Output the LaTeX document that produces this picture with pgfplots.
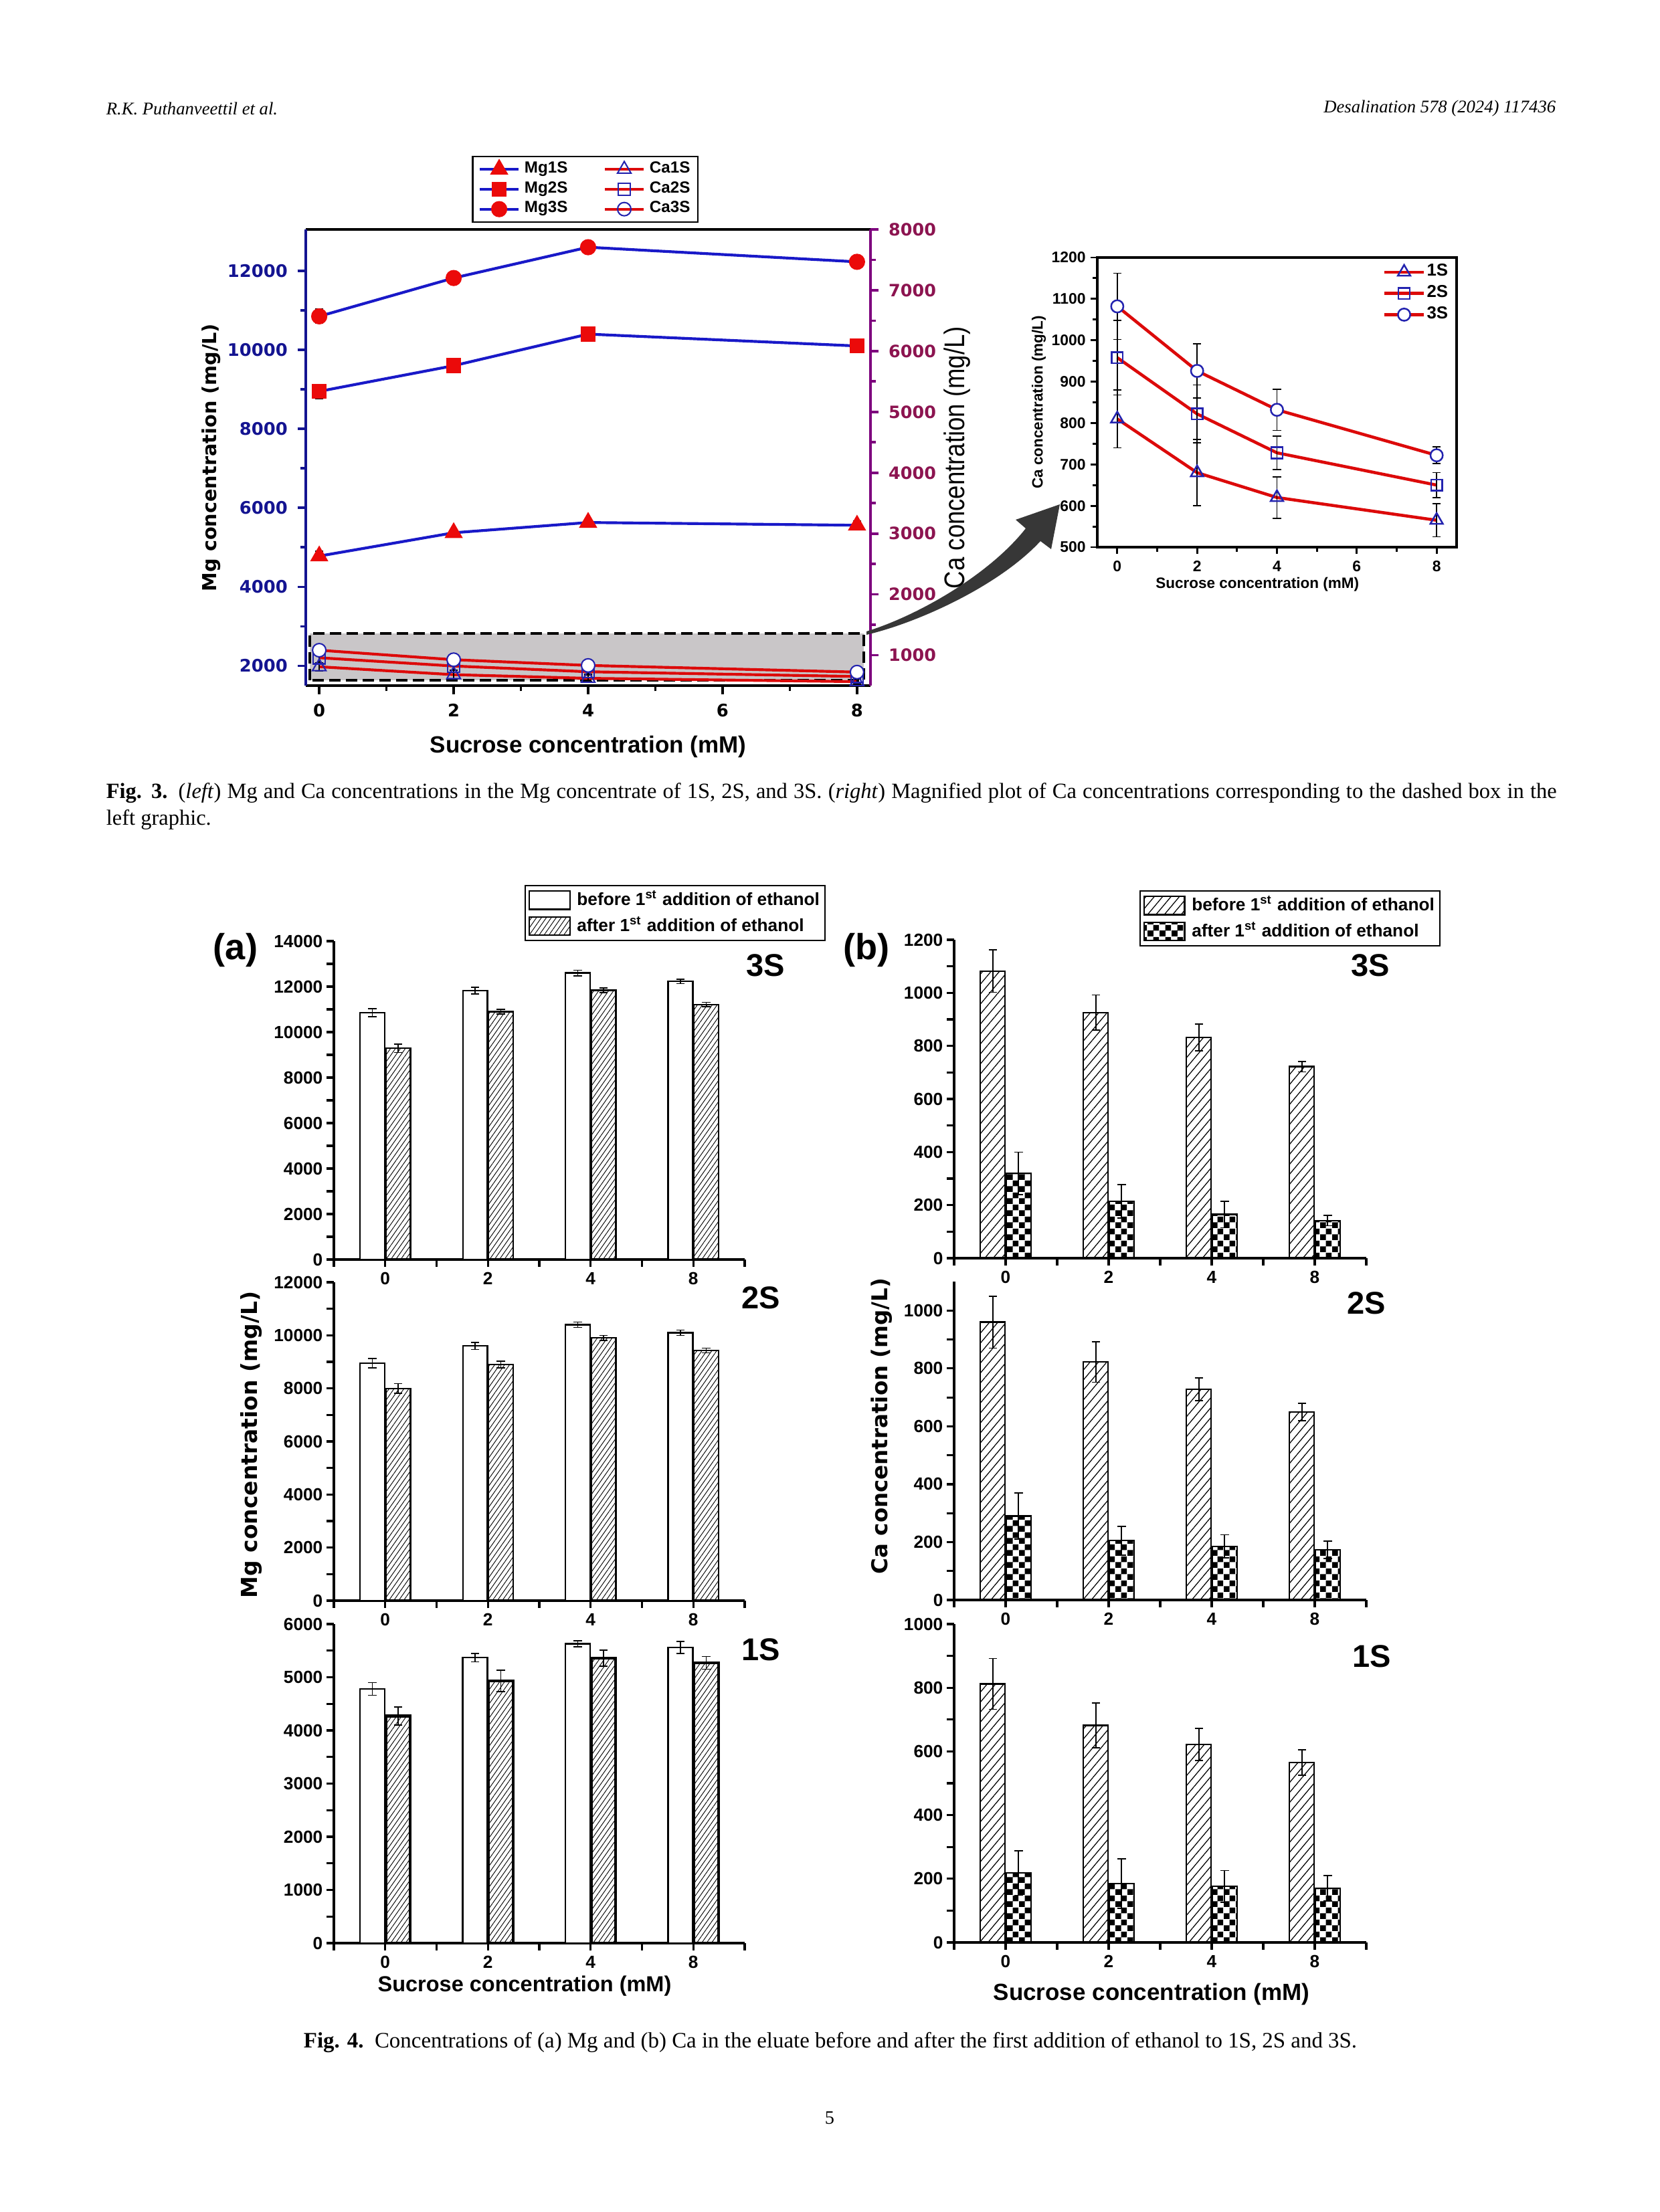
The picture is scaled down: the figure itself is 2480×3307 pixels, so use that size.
\documentclass[border=0pt]{standalone}
\usepackage{fontspec}
\usepackage{pgfplots}
\pgfplotsset{compat=1.18}
\usetikzlibrary{patterns,patterns.meta}
\setmainfont{Liberation Serif}
\newfontfamily\arialf{Liberation Sans}
\newfontfamily\arialn[FakeStretch=0.86]{Liberation Sans}
\newfontfamily\dejab{DejaVu Sans}
\newcommand{\fsz}[1]{\fontsize{#1}{#1}\selectfont}

\definecolor{mgline}{RGB}{25,25,200}
\definecolor{axblue}{RGB}{20,20,145}
\definecolor{axpurple}{RGB}{125,0,125}
\definecolor{capurple}{RGB}{140,20,80}
\definecolor{mkred}{RGB}{235,10,10}
\definecolor{caline}{RGB}{220,10,10}
\definecolor{mkblue}{RGB}{35,35,175}
\definecolor{boxgray}{RGB}{201,198,200}
\definecolor{arrowgray}{RGB}{55,55,55}

% small checkerboard (2.1pt squares)
\tikzdeclarepattern{
  name=smallcheck,
  type=uncolored,
  bounding box={(0pt,0pt) and (4.2pt,4.2pt)},
  tile size={(4.2pt,4.2pt)},
  code={
    \pgfpathrectangle{\pgfpointorigin}{\pgfqpoint{2.15pt}{2.15pt}}
    \pgfpathrectangle{\pgfqpoint{2.1pt}{2.1pt}}{\pgfqpoint{2.1pt}{2.1pt}}
    \pgfusepath{fill}
  }
}

\pgfplotsset{
  eb/.style={
    /pgfplots/error bars/y dir=both,
    /pgfplots/error bars/y explicit,
    /pgfplots/error bars/error bar style={black, line width=0.4pt, solid},
    /pgfplots/error bars/error mark options={rotate=90, black, mark size=1.5pt, line width=0.4pt, solid}},
  abefore/.style={fill=white, draw=black, line width=0.55pt},
  aafter/.style={draw=black, line width=0.55pt, pattern={Lines[angle=55,distance=1.45pt,line width=0.22pt]}},
  bbefore/.style={draw=black, line width=0.55pt, pattern={Lines[angle=50,distance=2.3pt,line width=0.3pt]}},
  bafter/.style={draw=black, line width=0.55pt, pattern=smallcheck},
  barpanel/.style={
    scale only axis, ybar, bar width=0.24,
    enlargelimits=false,
    axis x line*=bottom, axis y line*=left,
    axis line style={line width=0.85pt, black},
    xmin=-0.5, xmax=3.5, ymin=0,
    xtick={0,1,2,3}, xticklabels={0,2,4,8},
    minor xtick={-0.5,0.5,1.5,2.5,3.5},
    minor y tick num=1,
    tick align=outside,
    major tick length=2.6pt, minor tick length=2.6pt,
    tick style={black, line width=0.75pt},
    tick label style={font=\arialf\bfseries\fsz{6.3}},
    xticklabel style={yshift=1.5pt},
    yticklabel style={inner xsep=1.2pt},
    /pgf/number format/assume math mode=true,
    /pgf/number format/set thousands separator={},
    scaled y ticks=false,
    legend image code/.code={\draw[##1,/tikz/.cd] (0pt,-3.3pt) rectangle (14.5pt,3.3pt);},
    legend style={draw=black, line width=0.5pt, font=\arialf\bfseries\fsz{6.3}, inner xsep=1.2pt, inner ysep=1pt,
      row sep=1pt, cells={anchor=west}, nodes={inner sep=0.7pt},
      /tikz/every odd column/.append style={column sep=1.6pt}},
  },
  lineleg/.style={legend image code/.code={\draw[mark repeat=2,mark phase=2,##1] plot coordinates {(0pt,0pt) (7pt,0pt) (14pt,0pt)};}},
}

\begin{document}
\begin{tikzpicture}
\begin{scope}[x=0.24pt,y=-0.24pt]
  \useasboundingbox (0,0) rectangle (2480,3307);
  \fill[white] (0,0) rectangle (2480,3307);
  \coordinate (f3l) at (457,1025);
  \coordinate (f3r) at (1640,818);
  \coordinate (a1) at (499,1883);
  \coordinate (a2) at (499,2393);
  \coordinate (a3) at (499,2905);
  \coordinate (b1) at (1426,1881);
  \coordinate (b2) at (1426,2392);
  \coordinate (b3) at (1426,2904);
  % page text
  \node[anchor=west, font=\itshape\fsz{6.4}, inner sep=0pt] at (158,162) {R.K. Puthanveettil et al.};
  \node[anchor=east, font=\itshape\fsz{6.4}, inner sep=0pt] at (2326,162) {Desalination 578 (2024) 117436};
  \node[anchor=north west, text width=520.3pt, align=justify, font=\fontsize{7.8}{9.6}\selectfont, inner sep=0pt] at (158,1170)
    {\textbf{Fig. 3.}\enspace(\textit{left}) Mg and Ca concentrations in the Mg concentrate of 1S, 2S, and 3S. (\textit{right}) Magnified plot of Ca concentrations corresponding to the dashed box in the\linebreak left graphic.};
  \node[font=\fsz{7.9}, inner sep=0pt] at (1241,3054)
    {\textbf{Fig. 4.}\enspace Concentrations of (a) Mg and (b) Ca in the eluate before and after the first addition of ethanol to 1S, 2S and 3S.};
  \node[font=\fsz{6.8}, inner sep=0pt] at (1240,3166) {5};
  % figure 4 labels
  \node[font=\arialf\bfseries\fsz{13}] at (352,1420) {(a)};
  \node[font=\arialf\bfseries\fsz{13}] at (1295,1420) {(b)};
  \node[font=\arialf\bfseries\fsz{11.3}] at (1144,1443) {3S};
  \node[font=\arialf\bfseries\fsz{11.3}] at (1137,1940) {2S};
  \node[font=\arialf\bfseries\fsz{11.3}] at (1137,2466) {1S};
  \node[font=\arialf\bfseries\fsz{11.3}] at (2048,1443) {3S};
  \node[font=\arialf\bfseries\fsz{11.3}] at (2042,1948) {2S};
  \node[font=\arialf\bfseries\fsz{11.3}] at (2050,2476) {1S};
  \node[rotate=90, font=\dejab\bfseries\fsz{7.9}] at (376,2160) {Mg concentration (mg/L)};
  \node[rotate=90, font=\dejab\bfseries\fsz{7.8}] at (1318,2132) {Ca concentration (mg/L)};
  \node[font=\arialf\bfseries\fsz{7.8}] at (784,2969) {Sucrose concentration (mM)};
  \node[font=\arialf\bfseries\fsz{8.4}] at (1721,2981) {Sucrose concentration (mM)};
\end{scope}

% ---------------- Fig. 3 left: Mg axis ----------------
\begin{axis}[
  at={(f3l)}, anchor=south west, scale only axis,
  width=202.56pt, height=163.68pt,
  xmin=-0.2, xmax=8.2, ymin=1500, ymax=13050,
  separate axis lines,
  x axis line style={black, line width=1pt},
  y axis line style={axblue, line width=1pt},
  xtick={0,2,4,6,8}, minor x tick num=1,
  ytick={2000,4000,...,12000}, minor y tick num=1,
  xtick pos=bottom, ytick pos=left,
  tick align=outside, major tick length=3pt, minor tick length=2pt,
  xtick style={black, line width=0.9pt},
  ytick style={axblue, line width=0.9pt},
  tick label style={font=\dejab\bfseries\fsz{6.2}},
  yticklabel style={text=axblue},
  /pgf/number format/assume math mode=true,
  /pgf/number format/set thousands separator={},
  scaled y ticks=false,
  xlabel={Sucrose concentration (mM)},
  xlabel style={font=\arialf\bfseries\fsz{8.4}},
  ylabel={Mg concentration (mg/L)},
  ylabel style={font=\dejab\bfseries\fsz{6.9}},
  ylabel shift=-4.5pt,
  lineleg,
  legend columns=2,
  legend style={at={(0.495,1.015)}, anchor=south, draw=black, line width=0.5pt,
    font=\arialf\bfseries\fsz{5.8}, inner xsep=2pt, inner ysep=1pt, row sep=0pt, nodes={inner sep=0.8pt},
    /tikz/every odd column/.append style={column sep=0.8pt},
    /tikz/every even column/.append style={column sep=12pt}},
]
\addplot[mgline, line width=1pt, mark=triangle*, mark size=2.8pt, mark options={fill=mkred, draw=mkred}, eb]
  coordinates {(0,4780) +- (0,120) (2,5370) +- (0,80) (4,5630) +- (0,60) (8,5560) +- (0,110)};
\addlegendentry{Mg1S}
\addlegendimage{caline, line width=1pt, mark=triangle, mark size=2.8pt, mark options={draw=mkblue, fill=white, line width=0.5pt}}
\addlegendentry{Ca1S}
\addplot[mgline, line width=1pt, mark=square*, mark size=2.2pt, mark options={fill=mkred, draw=mkred}, eb]
  coordinates {(0,8950) +- (0,180) (2,9600) +- (0,130) (4,10400) +- (0,100) (8,10100) +- (0,100)};
\addlegendentry{Mg2S}
\addlegendimage{caline, line width=1pt, mark=square, mark size=2.2pt, mark options={draw=mkblue, fill=white, line width=0.5pt}}
\addlegendentry{Ca2S}
\addplot[mgline, line width=1pt, mark=*, mark size=2.4pt, mark options={fill=mkred, draw=mkred}, eb]
  coordinates {(0,10850) +- (0,180) (2,11820) +- (0,150) (4,12600) +- (0,120) (8,12230) +- (0,100)};
\addlegendentry{Mg3S}
\addlegendimage{caline, line width=1pt, mark=o, mark size=2.4pt, mark options={draw=mkblue, fill=white, line width=0.5pt}}
\addlegendentry{Ca3S}
\end{axis}

% ---------------- Fig. 3 left: Ca axis ----------------
\begin{axis}[
  at={(f3l)}, anchor=south west, scale only axis,
  width=202.56pt, height=163.68pt,
  xmin=-0.2, xmax=8.2, ymin=500, ymax=8000,
  axis x line=none, axis y line*=right,
  axis line style={axpurple, line width=1pt},
  ytick={1000,2000,...,8000}, minor y tick num=1,
  tick align=outside, major tick length=3pt, minor tick length=2pt,
  tick style={axpurple, line width=0.9pt},
  tick label style={font=\dejab\bfseries\fsz{6.1}},
  yticklabel style={text=capurple},
  /pgf/number format/assume math mode=true,
  /pgf/number format/set thousands separator={},
  scaled y ticks=false,
  ylabel={Ca concentration (mg/L)},
  ylabel style={font=\arialn\fsz{10.2}},
  ylabel shift=-4pt,
]
\fill[boxgray] (axis cs:-0.14,588) rectangle (axis cs:8.1,1357);
\draw[black, line width=1.1pt, dash pattern=on 4pt off 2pt] (axis cs:-0.14,588) rectangle (axis cs:8.1,1357);
\addplot[caline, line width=1pt, mark=triangle, mark size=2.8pt, mark options={draw=mkblue, fill=white, line width=0.5pt}, eb]
  coordinates {(0,810) +- (0,70) (2,680) +- (0,80) (4,620) +- (0,50) (8,565) +- (0,40)};
\addplot[caline, line width=1pt, mark=square, mark size=2.2pt, mark options={draw=mkblue, fill=white, line width=0.5pt}, eb]
  coordinates {(0,958) +- (0,90) (2,822) +- (0,70) (4,728) +- (0,40) (8,650) +- (0,30)};
\addplot[caline, line width=1pt, mark=*, mark size=2.4pt, mark options={draw=mkblue, fill=white, line width=0.5pt}, eb]
  coordinates {(0,1082) +- (0,80) (2,926) +- (0,66) (4,832) +- (0,50) (8,722) +- (0,20)};
\end{axis}

% ---------------- Fig. 3 right: magnified Ca ----------------
\begin{axis}[
  at={(f3r)}, anchor=south west, scale only axis,
  width=128.88pt, height=103.92pt,
  xmin=-0.5, xmax=8.5, ymin=500, ymax=1200,
  xtick={0,2,4,6,8}, minor x tick num=1,
  ytick={500,600,...,1200}, minor y tick num=1,
  xtick pos=bottom, ytick pos=left, tick align=outside,
  axis line style={line width=0.9pt, black},
  tick style={black, line width=0.7pt}, major tick length=2.5pt, minor tick length=1.6pt,
  tick label style={font=\arialf\bfseries\fsz{5.5}},
  xticklabel style={yshift=1pt},
  yticklabel style={inner xsep=1.5pt},
  /pgf/number format/assume math mode=true,
  /pgf/number format/set thousands separator={},
  xlabel={Sucrose concentration (mM)},
  ylabel={Ca concentration (mg/L)},
  label style={font=\arialf\bfseries\fsz{5.4}},
  xlabel style={xshift=-7pt, yshift=5pt},
  ylabel shift=-3pt,
  lineleg,
  legend style={draw=none, fill=none, at={(0.99,0.995)}, anchor=north east,
    font=\arialf\bfseries\fsz{6.2}, row sep=0.6pt, inner sep=1pt, nodes={inner sep=0.6pt}},
]
\addplot[caline, line width=1.1pt, mark=triangle, mark size=2.6pt, mark options={draw=mkblue, fill=white, line width=0.6pt}, eb]
  coordinates {(0,810) +- (0,70) (2,680) +- (0,80) (4,620) +- (0,50) (8,565) +- (0,40)};
\addlegendentry{1S}
\addplot[caline, line width=1.1pt, mark=square, mark size=2pt, mark options={draw=mkblue, fill=white, line width=0.6pt}, eb]
  coordinates {(0,958) +- (0,90) (2,822) +- (0,70) (4,728) +- (0,40) (8,650) +- (0,30)};
\addlegendentry{2S}
\addplot[caline, line width=1.1pt, mark=*, mark size=2.2pt, mark options={draw=mkblue, fill=white, line width=0.6pt}, eb]
  coordinates {(0,1082) +- (0,80) (2,926) +- (0,66) (4,832) +- (0,50) (8,722) +- (0,20)};
\addlegendentry{3S}
\end{axis}

% ---------------- Fig. 4 (a) Mg ----------------
\begin{axis}[barpanel, at={(a1)}, anchor=south west, width=147.36pt, height=114.24pt,
  ymax=14000, ytick={0,2000,...,14000},
  legend style={at={(1.197,1.0)}, anchor=south east}]
\addplot[abefore, bar shift=-0.125, eb] coordinates {(0,10850) +- (0,180) (1,11820) +- (0,150) (2,12600) +- (0,120) (3,12230) +- (0,100)};
\addlegendentry{before 1\textsuperscript{st} addition of ethanol}
\addplot[aafter, bar shift=0.125, eb] coordinates {(0,9290) +- (0,190) (1,10900) +- (0,110) (2,11840) +- (0,100) (3,11210) +- (0,100)};
\addlegendentry{after 1\textsuperscript{st} addition of ethanol}
\end{axis}

\begin{axis}[barpanel, at={(a2)}, anchor=south west, width=147.36pt, height=114.24pt,
  ymax=12000, ytick={0,2000,...,12000}]
\addplot[abefore, bar shift=-0.125, eb] coordinates {(0,8950) +- (0,180) (1,9600) +- (0,130) (2,10400) +- (0,100) (3,10100) +- (0,100)};
\addplot[aafter, bar shift=0.125, eb] coordinates {(0,8000) +- (0,180) (1,8900) +- (0,120) (2,9900) +- (0,100) (3,9430) +- (0,90)};
\end{axis}

\begin{axis}[barpanel, at={(a3)}, anchor=south west, width=147.36pt, height=114.48pt,
  ymax=6000, ytick={0,1000,...,6000}]
\addplot[abefore, bar shift=-0.125, eb] coordinates {(0,4780) +- (0,120) (1,5370) +- (0,80) (2,5630) +- (0,60) (3,5560) +- (0,110)};
\addplot[aafter, line width=1pt, bar shift=0.125, eb] coordinates {(0,4270) +- (0,170) (1,4930) +- (0,200) (2,5360) +- (0,150) (3,5270) +- (0,120)};
\end{axis}

% ---------------- Fig. 4 (b) Ca ----------------
\begin{axis}[barpanel, at={(b1)}, anchor=south west, width=147.84pt, height=114.24pt,
  ymax=1200, ytick={0,200,...,1200},
  legend style={at={(1.18,0.979)}, anchor=south east}]
\addplot[bbefore, bar shift=-0.125, eb] coordinates {(0,1082) +- (0,80) (1,926) +- (0,66) (2,832) +- (0,50) (3,722) +- (0,20)};
\addlegendentry{before 1\textsuperscript{st} addition of ethanol}
\addplot[bafter, bar shift=0.125, eb] coordinates {(0,320) +- (0,80) (1,215) +- (0,63) (2,165) +- (0,50) (3,142) +- (0,20)};
\addlegendentry{after 1\textsuperscript{st} addition of ethanol}
\end{axis}

\begin{axis}[barpanel, at={(b2)}, anchor=south west, width=147.84pt, height=114.24pt,
  ymax=1100, ytick={0,200,...,1000}]
\addplot[bbefore, bar shift=-0.125, eb] coordinates {(0,960) +- (0,90) (1,822) +- (0,70) (2,728) +- (0,40) (3,650) +- (0,30)};
\addplot[bafter, bar shift=0.125, eb] coordinates {(0,290) +- (0,80) (1,205) +- (0,50) (2,185) +- (0,40) (3,173) +- (0,30)};
\end{axis}

\begin{axis}[barpanel, at={(b3)}, anchor=south west, width=147.84pt, height=114.24pt,
  ymax=1000, ytick={0,200,...,1000}]
\addplot[bbefore, bar shift=-0.125, eb] coordinates {(0,812) +- (0,80) (1,682) +- (0,70) (2,622) +- (0,50) (3,565) +- (0,40)};
\addplot[bafter, bar shift=0.125, eb] coordinates {(0,218) +- (0,70) (1,185) +- (0,78) (2,176) +- (0,50) (3,170) +- (0,40)};
\end{axis}

% ---------------- zoom arrow ----------------
\begin{scope}[x=0.24pt,y=-0.24pt]
  \fill[arrowgray] (1295,944) .. controls (1370,921) and (1478,860) .. (1533,790)
    -- (1518,777) -- (1584,754) -- (1571,821) -- (1555,809)
    .. controls (1493,876) and (1372,931) .. (1295,949) -- cycle;
\end{scope}
\end{tikzpicture}
\end{document}
